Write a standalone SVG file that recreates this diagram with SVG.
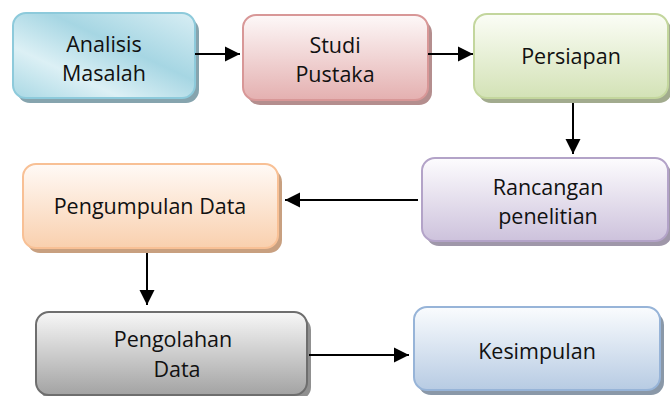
<svg xmlns="http://www.w3.org/2000/svg" width="670" height="396" viewBox="0 0 670 396">
<defs>
<style>
.t{font-family:"Open Sans","Noto Sans","DejaVu Sans",sans-serif;font-size:21.5px;fill:#111;text-anchor:middle}
.e{stroke:#000;stroke-width:2;fill:none;marker-end:url(#ah)}
</style>
<marker id="ah" viewBox="0 0 10 10" refX="10" refY="5" markerWidth="7.5" markerHeight="8" markerUnits="strokeWidth" orient="auto"><path d="M0,0L10,5L0,10z" fill="#000"/></marker>
<linearGradient id="gBlue" x1="0" y1="1" x2="1" y2="0">
<stop offset="0" stop-color="#a9d8e4"/><stop offset="0.3" stop-color="#dcf0f5"/><stop offset="0.6" stop-color="#a6d6e3"/><stop offset="1" stop-color="#d8eef4"/></linearGradient>
<linearGradient id="gPink" x1="0" y1="0" x2="0" y2="1"><stop offset="0" stop-color="#fdf8f8"/><stop offset="1" stop-color="#e4b0b0"/></linearGradient>
<linearGradient id="gGreen" x1="0" y1="0" x2="0" y2="1"><stop offset="0" stop-color="#fbfdf6"/><stop offset="1" stop-color="#d3e2b6"/></linearGradient>
<linearGradient id="gPurple" x1="0" y1="0" x2="0" y2="1"><stop offset="0" stop-color="#fdfcfe"/><stop offset="1" stop-color="#cdc2dc"/></linearGradient>
<linearGradient id="gOrange" x1="0" y1="0" x2="0" y2="1"><stop offset="0" stop-color="#fffaf6"/><stop offset="1" stop-color="#f9d0ae"/></linearGradient>
<linearGradient id="gGray" x1="0" y1="0" x2="0" y2="1"><stop offset="0" stop-color="#f7f7f7"/><stop offset="1" stop-color="#a3a3a3"/></linearGradient>
<linearGradient id="gLBlue" x1="0" y1="0" x2="0" y2="1"><stop offset="0" stop-color="#fafcfe"/><stop offset="1" stop-color="#b7cbe3"/></linearGradient>
</defs>
<rect width="670" height="396" fill="#fff"/>
<g id="n1">
<rect x="17" y="18" width="182" height="85" rx="13" fill="#86a4ae"/>
<rect x="13" y="13" width="182" height="85" rx="13" fill="url(#gBlue)" stroke="#8dcadb" stroke-width="2"/>
<text class="t" x="104" y="52">Analisis</text><text class="t" x="104" y="81">Masalah</text>
</g>
<g id="n2">
<rect x="247" y="20" width="185" height="85" rx="13" fill="#b48e8e"/>
<rect x="243" y="15" width="185" height="85" rx="13" fill="url(#gPink)" stroke="#d89797" stroke-width="2"/>
<text class="t" x="335" y="53">Studi</text><text class="t" x="335" y="82">Pustaka</text>
</g>
<g id="n3">
<rect x="478" y="19" width="194" height="84" rx="13" fill="#a2ab8e"/>
<rect x="474" y="14" width="194" height="84" rx="13" fill="url(#gGreen)" stroke="#c3d69d" stroke-width="2"/>
<text class="t" x="571" y="64">Persiapan</text>
</g>
<g id="n4">
<rect x="426" y="163" width="246" height="83" rx="13" fill="#9f97a9"/>
<rect x="422" y="158" width="246" height="83" rx="13" fill="url(#gPurple)" stroke="#b3a3c8" stroke-width="2"/>
<text class="t" x="548" y="195">Rancangan</text><text class="t" x="548" y="224">penelitian</text>
</g>
<g id="n5">
<rect x="27" y="169" width="255" height="84" rx="13" fill="#c8a080"/>
<rect x="23" y="164" width="255" height="84" rx="13" fill="url(#gOrange)" stroke="#f8c095" stroke-width="2"/>
<text class="t" x="150" y="214">Pengumpulan Data</text>
</g>
<g id="n6">
<rect x="40" y="317" width="271" height="83" rx="13" fill="#909090"/>
<rect x="36" y="312" width="271" height="83" rx="13" fill="url(#gGray)" stroke="#6e6e6e" stroke-width="2"/>
<text class="t" x="173" y="347">Pengolahan</text><text class="t" x="177" y="377">Data</text>
</g>
<g id="n7">
<rect x="418" y="312" width="246" height="83" rx="13" fill="#8a98a8"/>
<rect x="414" y="307" width="246" height="83" rx="13" fill="url(#gLBlue)" stroke="#97b4d8" stroke-width="2"/>
<text class="t" x="537" y="359">Kesimpulan</text>
</g>
<g id="edges">
<line class="e" x1="195" y1="54" x2="240" y2="54"/>
<line class="e" x1="428" y1="54" x2="473" y2="54"/>
<line class="e" x1="573" y1="103" x2="573" y2="154"/>
<line class="e" x1="418" y1="200" x2="285" y2="200"/>
<line class="e" x1="147" y1="253" x2="147" y2="305"/>
<line class="e" x1="309" y1="355" x2="409" y2="355"/>
</g>
</svg>
